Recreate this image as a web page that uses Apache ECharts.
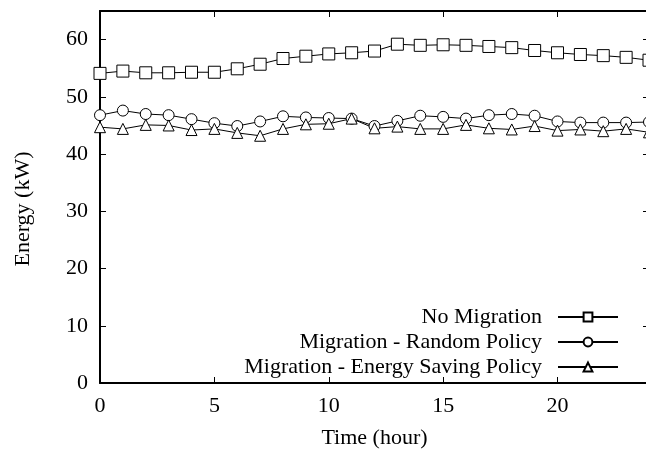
<!DOCTYPE html>
<html><head><meta charset="utf-8">
<script src="https://cdn.jsdelivr.net/npm/echarts@6/dist/echarts.min.js"></script>
<style>html,body{margin:0;padding:0;background:#fff}#c{width:646px;height:453px}</style>
</head><body><div id="c"></div>
<script>
const hours = [0,1,2,3,4,5,6,7,8,9,10,11,12,13,14,15,16,17,18,19,20,21,22,23,24];
const noMigration = [54.1,54.5,54.2,54.2,54.3,54.3,54.9,55.7,56.7,57.1,57.5,57.7,58.0,59.2,59.0,59.1,59.0,58.8,58.6,58.1,57.7,57.4,57.2,56.9,56.4];
const randomPolicy = [46.8,47.6,47.0,46.8,46.1,45.4,44.9,45.7,46.6,46.4,46.3,46.2,44.9,45.8,46.7,46.5,46.2,46.8,47.0,46.7,45.7,45.5,45.5,45.5,45.6];
const energySaving = [44.7,44.4,45.1,45.0,44.2,44.4,43.7,43.2,44.4,45.2,45.3,46.2,44.5,44.8,44.4,44.4,45.1,44.5,44.3,44.9,44.1,44.3,44.0,44.4,43.8];
const names = ['No Migration','Migration - Random Policy','Migration - Energy Saving Policy'];
const symbols = ['rect','circle','triangle'];
const symbolSizes = [12,11,11];
const font = 'Liberation Serif';
const fs = 22;
const chart = echarts.init(document.getElementById('c'));
const seriesData = [noMigration, randomPolicy, energySaving];
function axisCommon(){
  return {
    axisLine:{show:true,onZero:false,lineStyle:{color:'#000',width:2}},
    axisTick:{show:true,inside:true,length:6,lineStyle:{color:'#000',width:1}},
    splitLine:{show:false}
  };
}
chart.setOption({
  animation:false,
  backgroundColor:'#fff',
  grid:{left:100,top:11,right:-3,bottom:70,outerBoundsMode:'none',containLabel:false},
  legend:{
    orient:'vertical', right:22, top:301, align:'right', itemGap:3,
    itemWidth:60, itemHeight:11,
    textStyle:{fontFamily:font,fontSize:fs,color:'#000',padding:[0,11,0,0]},
    data:names
  },
  xAxis:[
    Object.assign({type:'value',min:0,max:24,interval:5,position:'bottom',
      axisLabel:{fontFamily:font,fontSize:fs,color:'#000',margin:12,showMaxLabel:false},
      name:'Time (hour)',nameLocation:'middle',nameGap:44,
      nameTextStyle:{fontFamily:font,fontSize:fs,color:'#000'}},axisCommon()),
    Object.assign({type:'value',min:0,max:24,interval:5,position:'top',axisLabel:{show:false}},axisCommon())
  ],
  yAxis:[
    Object.assign({type:'value',min:0,max:65,interval:10,position:'left',
      axisLabel:{fontFamily:font,fontSize:fs,color:'#000',margin:12,showMaxLabel:false},
      name:'Energy (kW)',nameLocation:'middle',nameGap:66,nameRotate:90,
      nameTextStyle:{fontFamily:font,fontSize:fs,color:'#000',padding:[0,24,0,0]}},axisCommon()),
    Object.assign({type:'value',min:0,max:65,interval:10,position:'right',axisLabel:{show:false}},axisCommon())
  ],
  series: seriesData.map((d,i)=>({
    name:names[i], type:'line',
    data:hours.map((h,j)=>[h,d[j]]),
    symbol:symbols[i], symbolSize:symbolSizes[i], showAllSymbol:true,
    lineStyle:{color:'#000',width:1},
    itemStyle:{color:'#fff',borderColor:'#000',borderWidth:1},
    clip:false
  }))
});
</script></body></html>
